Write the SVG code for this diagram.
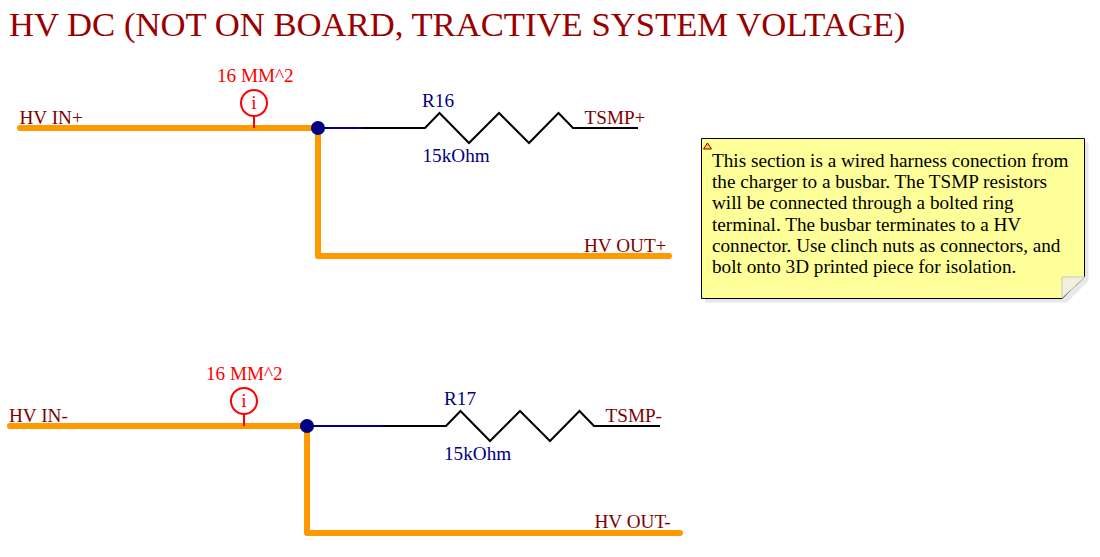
<svg xmlns="http://www.w3.org/2000/svg" width="1100" height="557" viewBox="0 0 1100 557">
<style>
text{font-family:"Liberation Serif","Times New Roman",serif;font-size:19.2px}
.net{fill:#800000}.ref{fill:#000080}.par{fill:#ff0000}
.bus{fill:none;stroke:#ff9900;stroke-width:6;stroke-linecap:round;stroke-linejoin:round}
.wire{fill:none;stroke:#000080;stroke-width:2}
.res{fill:none;stroke:#000;stroke-width:2}
.info{fill:#fff;stroke:#ff0000;stroke-width:2}
.stub{fill:none;stroke:#ff0000;stroke-width:2}
</style>
<rect width="1100" height="557" fill="#fff"/>
<text id="title" x="9" y="36" style="font-size:34.67px" fill="#990000">HV DC (NOT ON BOARD, TRACTIVE SYSTEM VOLTAGE)</text>
<g id="connectors">
<path class="bus" d="M20 128H318V256H669"/>
<path class="wire" d="M318 128H362"/>
<path class="res" d="M362 128H425L439.500 113L469 143L499 113L529 143L558.500 113L573 128H638"/>
<path class="stub" d="M254 116V128"/>
<path class="bus" d="M10 426H307V533H680"/>
<path class="wire" d="M307 426H383"/>
<path class="res" d="M383 426H446L460.500 411L490 441L520 411L550 441L579.500 411L594 426H660"/>
<path class="stub" d="M244 413V426"/>
</g>
<g id="junction1"><circle cx="318" cy="128" r="7" fill="#000080"/></g>
<g id="junction2"><circle cx="307" cy="426" r="7" fill="#000080"/></g>
<g id="hv-in-plus"><text class="net" x="19.500" y="124">HV IN+</text></g>
<g id="hv-out-plus"><text class="net" x="584" y="252">HV OUT+</text></g>
<g id="tsmp-plus"><text class="net" x="584.500" y="124">TSMP+</text></g>
<g id="hv-in-minus"><text class="net" x="9" y="422">HV IN-</text></g>
<g id="hv-out-minus"><text class="net" x="594.500" y="528">HV OUT-</text></g>
<g id="tsmp-minus"><text class="net" x="605.500" y="422">TSMP-</text></g>
<g id="param1">
<text class="par" x="217" y="82">16 MM^2</text>
<circle class="info" cx="254" cy="103" r="13"/>
<text class="par" x="254" y="109" text-anchor="middle">i</text>
</g>
<g id="param2">
<text class="par" x="206" y="380">16 MM^2</text>
<circle class="info" cx="244" cy="401" r="13"/>
<text class="par" x="244" y="407" text-anchor="middle">i</text>
</g>
<g id="R16">
<text class="ref" x="422" y="107">R16</text>
<text class="ref" x="422.500" y="162">15kOhm</text>
</g>
<g id="R17">
<text class="ref" x="444" y="405">R17</text>
<text class="ref" x="444" y="460">15kOhm</text>
</g>
<g id="note">
<path d="M705 142H1088.500V281L1067 302.500H705Z" fill="#e8e8e8"/>
<path d="M701.500 138.500H1084.500V277L1062 298.500H701.500Z" fill="#ffff99" stroke="#000" stroke-width="1"/>
<path d="M1062 298V277H1085Z" fill="#f2f2dc" stroke="#c4c4c4" stroke-width="1"/>
<path d="M703.500 149L707.500 143L711.500 149Z" fill="#ffcc33" stroke="#800000" stroke-width="1"/>
<text x="712" y="167">This section is a wired harness conection from</text>
<text x="712" y="188">the charger to a busbar. The TSMP resistors</text>
<text x="712" y="209">will be connected through a bolted ring</text>
<text x="712" y="231">terminal. The busbar terminates to a HV</text>
<text x="712" y="252">connector. Use clinch nuts as connectors, and</text>
<text x="712" y="273">bolt onto 3D printed piece for isolation.</text>
</g>
</svg>
